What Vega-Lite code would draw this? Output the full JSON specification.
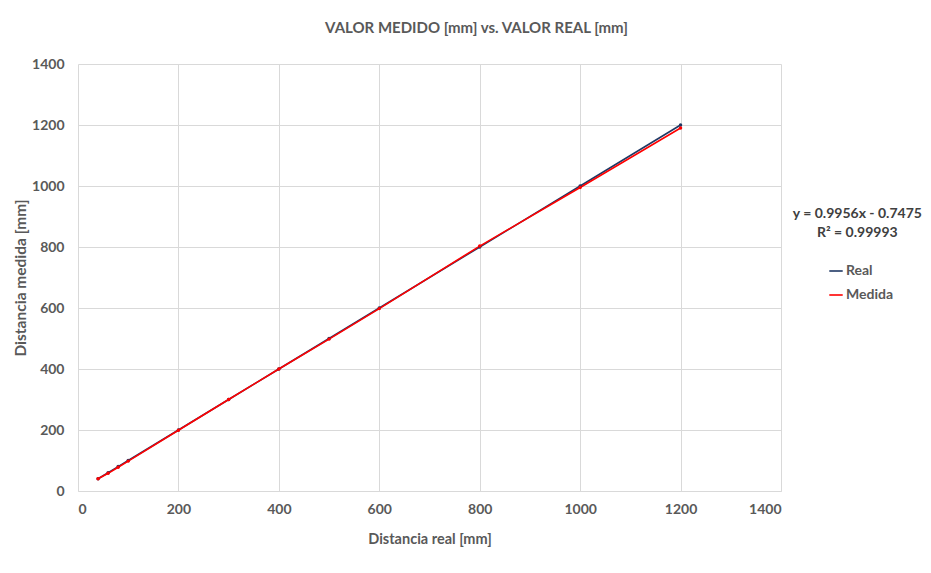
{
  "$schema": "https://vega.github.io/schema/vega-lite/v6.json",
  "width": 703,
  "height": 427,
  "autosize": {"type": "none"},
  "padding": {"left": 78, "top": 64, "right": 150, "bottom": 82},
  "background": "white",
  "title": {
    "text": "VALOR MEDIDO [mm] vs. VALOR REAL [mm]",
    "font": "Lato",
    "fontSize": 15,
    "fontWeight": "bold",
    "color": "#595959",
    "anchor": "middle",
    "dx": 47,
    "offset": 21
  },
  "datasets": {
    "puntos": [
      {"serie": "Real", "real": 40, "valor": 40},
      {"serie": "Real", "real": 60, "valor": 60},
      {"serie": "Real", "real": 80, "valor": 80},
      {"serie": "Real", "real": 100, "valor": 100},
      {"serie": "Real", "real": 200, "valor": 200},
      {"serie": "Real", "real": 300, "valor": 300},
      {"serie": "Real", "real": 400, "valor": 400},
      {"serie": "Real", "real": 500, "valor": 500},
      {"serie": "Real", "real": 600, "valor": 600},
      {"serie": "Real", "real": 800, "valor": 800},
      {"serie": "Real", "real": 1000, "valor": 1000},
      {"serie": "Real", "real": 1200, "valor": 1200},
      {"serie": "Medida", "real": 40, "valor": 40},
      {"serie": "Medida", "real": 60, "valor": 58},
      {"serie": "Medida", "real": 80, "valor": 78},
      {"serie": "Medida", "real": 100, "valor": 98},
      {"serie": "Medida", "real": 200, "valor": 199},
      {"serie": "Medida", "real": 300, "valor": 300},
      {"serie": "Medida", "real": 400, "valor": 400},
      {"serie": "Medida", "real": 500, "valor": 498},
      {"serie": "Medida", "real": 600, "valor": 598},
      {"serie": "Medida", "real": 800, "valor": 803},
      {"serie": "Medida", "real": 1000, "valor": 995},
      {"serie": "Medida", "real": 1200, "valor": 1190}
    ],
    "etiquetas": [
      {"x": 1552, "y": 909, "texto": "y = 0.9956x - 0.7475"},
      {"x": 1552, "y": 847, "texto": "R² = 0.99993"}
    ]
  },
  "config": {
    "view": {"stroke": null},
    "axis": {
      "labelFont": "Lato",
      "labelFontSize": 14,
      "labelFontWeight": "bold",
      "labelColor": "#595959",
      "titleFont": "Lato",
      "titleFontSize": 14.5,
      "titleFontWeight": "bold",
      "titleColor": "#595959",
      "gridColor": "#D9D9D9",
      "gridWidth": 1,
      "ticks": false,
      "domain": false,
      "format": "d"
    }
  },
  "layer": [
    {
      "data": {"name": "puntos"},
      "mark": {"type": "line", "strokeWidth": 1.6, "point": {"filled": true, "size": 12}},
      "encoding": {
        "x": {
          "field": "real",
          "type": "quantitative",
          "scale": {"domain": [0, 1400], "nice": false},
          "axis": {"values": [0, 200, 400, 600, 800, 1000, 1200, 1400], "format": "d", "title": "Distancia real [mm]", "labelPadding": 11, "titlePadding": 16, "domain": true, "domainColor": "#D9D9D9"}
        },
        "y": {
          "field": "valor",
          "type": "quantitative",
          "scale": {"domain": [0, 1400], "nice": false},
          "axis": {"values": [0, 200, 400, 600, 800, 1000, 1200, 1400], "format": "d", "title": "Distancia medida [mm]", "titleFontSize": 15.5, "labelPadding": 14, "titlePadding": 3}
        },
        "color": {
          "field": "serie",
          "type": "nominal",
          "scale": {"domain": ["Real", "Medida"], "range": ["#1F3864", "#FF0000"]},
          "legend": {
            "title": null,
            "orient": "none",
            "legendX": 750,
            "legendY": 199,
            "symbolType": "stroke",
            "symbolSize": 180,
            "symbolStrokeWidth": 1.6,
            "labelFont": "Lato",
            "labelFontSize": 14,
            "labelFontWeight": "bold",
            "labelColor": "#595959",
            "labelOffset": 2,
            "rowPadding": 9
          }
        }
      }
    },
    {
      "data": {"name": "etiquetas"},
      "mark": {"type": "text", "font": "Lato", "fontSize": 14, "fontWeight": "bold", "color": "#404040", "align": "center", "baseline": "middle", "clip": false},
      "encoding": {
        "x": {"field": "x", "type": "quantitative"},
        "y": {"field": "y", "type": "quantitative"},
        "text": {"field": "texto", "type": "nominal"}
      }
    }
  ]
}
